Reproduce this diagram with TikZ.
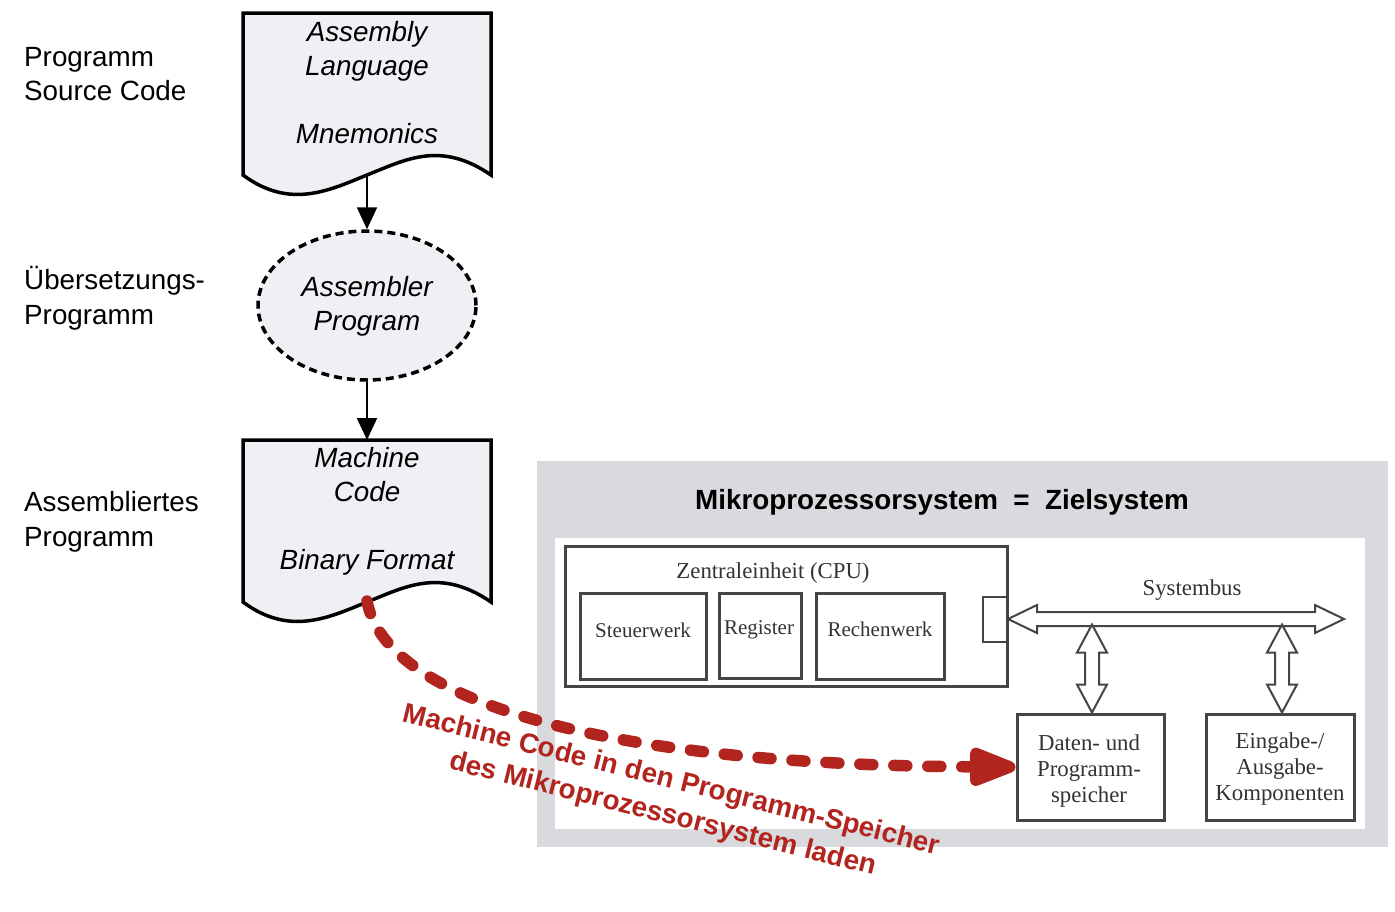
\documentclass[tikz,border=0pt]{standalone}
\usepackage{fontspec}
\setmainfont{Liberation Sans}
\newfontfamily\scanserif{Liberation Serif}
\usetikzlibrary{arrows.meta,shapes.geometric}
\definecolor{docfill}{HTML}{EEF0F4}
\definecolor{panelgray}{HTML}{D9DADE}
\definecolor{redline}{RGB}{178,36,30}
\definecolor{scan}{HTML}{454545}
\definecolor{scantxt}{HTML}{333333}
\begin{document}
\begin{tikzpicture}[x=1pt,y=-1pt,
  sanslbl/.style={font=\fontsize{27.8}{34.5}\selectfont, align=left, anchor=west, inner sep=0pt},
  doctext/.style={font=\fontsize{27.8}{34}\selectfont\itshape, align=center, inner sep=0pt},
  docline/.style={draw=black, line width=3.5pt, fill=docfill, line join=miter},
  flowarrow/.style={line width=2pt, -{Triangle[length=22pt,width=20pt]}},
  scanbox/.style={draw=scan, line width=3pt, inner sep=0pt},
  scantext/.style={font=\scanserif\fontsize{22.8}{26}\selectfont, text=scantxt, align=center, inner sep=0pt},
  scansmall/.style={font=\scanserif\fontsize{21}{26}\selectfont, text=scantxt, align=center, inner sep=0pt},
  hollow/.style={draw=scan, line width=2pt, fill=white, line join=miter},
  loadarrow/.style={draw=redline, line width=11.5pt, line cap=round, dash pattern=on 13pt off 21pt,
     -{Triangle[length=57pt,width=40pt,round=false]}, fill=none}
]
\useasboundingbox (0,0) rectangle (1395,911);

% left labels
\node[sanslbl] (lbl1) at (24,74) {Programm\\Source Code};
\node[sanslbl] (lbl2) at (24,298) {Übersetzungs-\\Programm};
\node[sanslbl] (lbl3) at (24,522) {Assembliertes\\Programm};

% document 1
\draw[docline] (243,13) -- (491,13) -- (491,175) .. controls (440,140) and (405,160) .. (367,175)
   .. controls (330,190) and (290,210) .. (243,175) -- cycle;
\coordinate (d1b) at (367,176);
\node[doctext] (src) at (367,83) {Assembly\\Language\\[34pt]Mnemonics};

% assembler ellipse
\node[ellipse, draw=black, line width=3.5pt, dash pattern=on 8pt off 5pt, fill=docfill,
      minimum width=218pt, minimum height=149pt, inner sep=0pt] (asm) at (367,305.5) {};
\node[doctext] (asmtext) at (367,306) {Assembler\\Program};

% document 2
\draw[docline] (243,440) -- (491,440) -- (491,602) .. controls (440,567) and (405,587) .. (367,602)
   .. controls (330,617) and (290,637) .. (243,602) -- cycle;
\coordinate (d2t) at (367,440);
\coordinate (d2b) at (367,601);
\node[doctext] (mc) at (367,511) {Machine\\Code\\[34pt]Binary Format};

\draw[flowarrow] (d1b) -- (asm.north);
\draw[flowarrow] (asm.south) -- (d2t);

% target system panel
\node[fill=panelgray, minimum width=851pt, minimum height=386pt, inner sep=0pt, anchor=north west] (panel) at (537,461) {};
\node[fill=white, minimum width=810pt, minimum height=291pt, inner sep=0pt, anchor=north west] (inner) at (555,538) {};
\node[font=\fontsize{27.8}{34}\selectfont\bfseries, inner sep=0pt] (title) at (942,502) {Mikroprozessorsystem\ \ =\ \ Zielsystem};

% CPU
\node[scanbox, minimum width=442pt, minimum height=140pt] (cpu) at (786,616.5) {};
\node[scantext] (cpulbl) at (773,573) {Zentraleinheit (CPU)};
\node[scanbox, minimum width=126pt, minimum height=86pt] (stw) at (643,636) {};
\node[scansmall] (stwl) at (643,630) {Steuerwerk};
\node[scanbox, minimum width=82pt, minimum height=85pt] (reg) at (760,636) {};
\node[scansmall] (regl) at (759,630) {Register};
\node[scanbox, minimum width=128pt, minimum height=86pt] (rw) at (880.5,636) {};
\node[scansmall] (rwl) at (880,629) {Rechenwerk};
\node[draw=scan, line width=2pt, minimum width=24pt, minimum height=45pt, inner sep=0pt] (port) at (995,619) {};

% memory and I/O
\node[scanbox, minimum width=147pt, minimum height=106pt] (daten) at (1090.5,767) {};
\node[scantext] (datenl) at (1089,771) {Daten- und\\Programm-\\speicher};
\node[scanbox, minimum width=148pt, minimum height=106pt] (io) at (1280,767) {};
\node[scantext] (iol) at (1280,769) {Eingabe-/\\Ausgabe-\\Komponenten};

% system bus
\draw[hollow] (port.east) -- ++(29,-14) -- ++(0,7) -- ++(278,0) -- ++(0,-7) -- ++(29,14)
   -- ++(-29,14) -- ++(0,-7) -- ++(-278,0) -- ++(0,7) -- cycle;
\node[scantext] (buslbl) at (1192,590) {Systembus};
\draw[hollow] ([xshift=1.5pt]daten.north) -- ++(-15,-28) -- ++(8,0) -- ++(0,-32) -- ++(-8,0) -- ++(15,-28)
   -- ++(15,28) -- ++(-8,0) -- ++(0,32) -- ++(8,0) -- cycle;
\draw[hollow] ([xshift=2pt]io.north) -- ++(-15,-28) -- ++(8,0) -- ++(0,-32) -- ++(-8,0) -- ++(15,-28)
   -- ++(15,28) -- ++(-8,0) -- ++(0,32) -- ++(8,0) -- cycle;

% load arrow
\draw[loadarrow] (d2b) .. controls (385,700) and (600,765) .. (daten.west);
\node[font=\fontsize{27.8}{35}\selectfont\bfseries, text=redline, align=center, rotate=-14, inner sep=0pt] (loadlbl)
   at (667,798) {Machine Code in den Programm-Speicher\\des Mikroprozessorsystem laden};
\end{tikzpicture}
\end{document}
